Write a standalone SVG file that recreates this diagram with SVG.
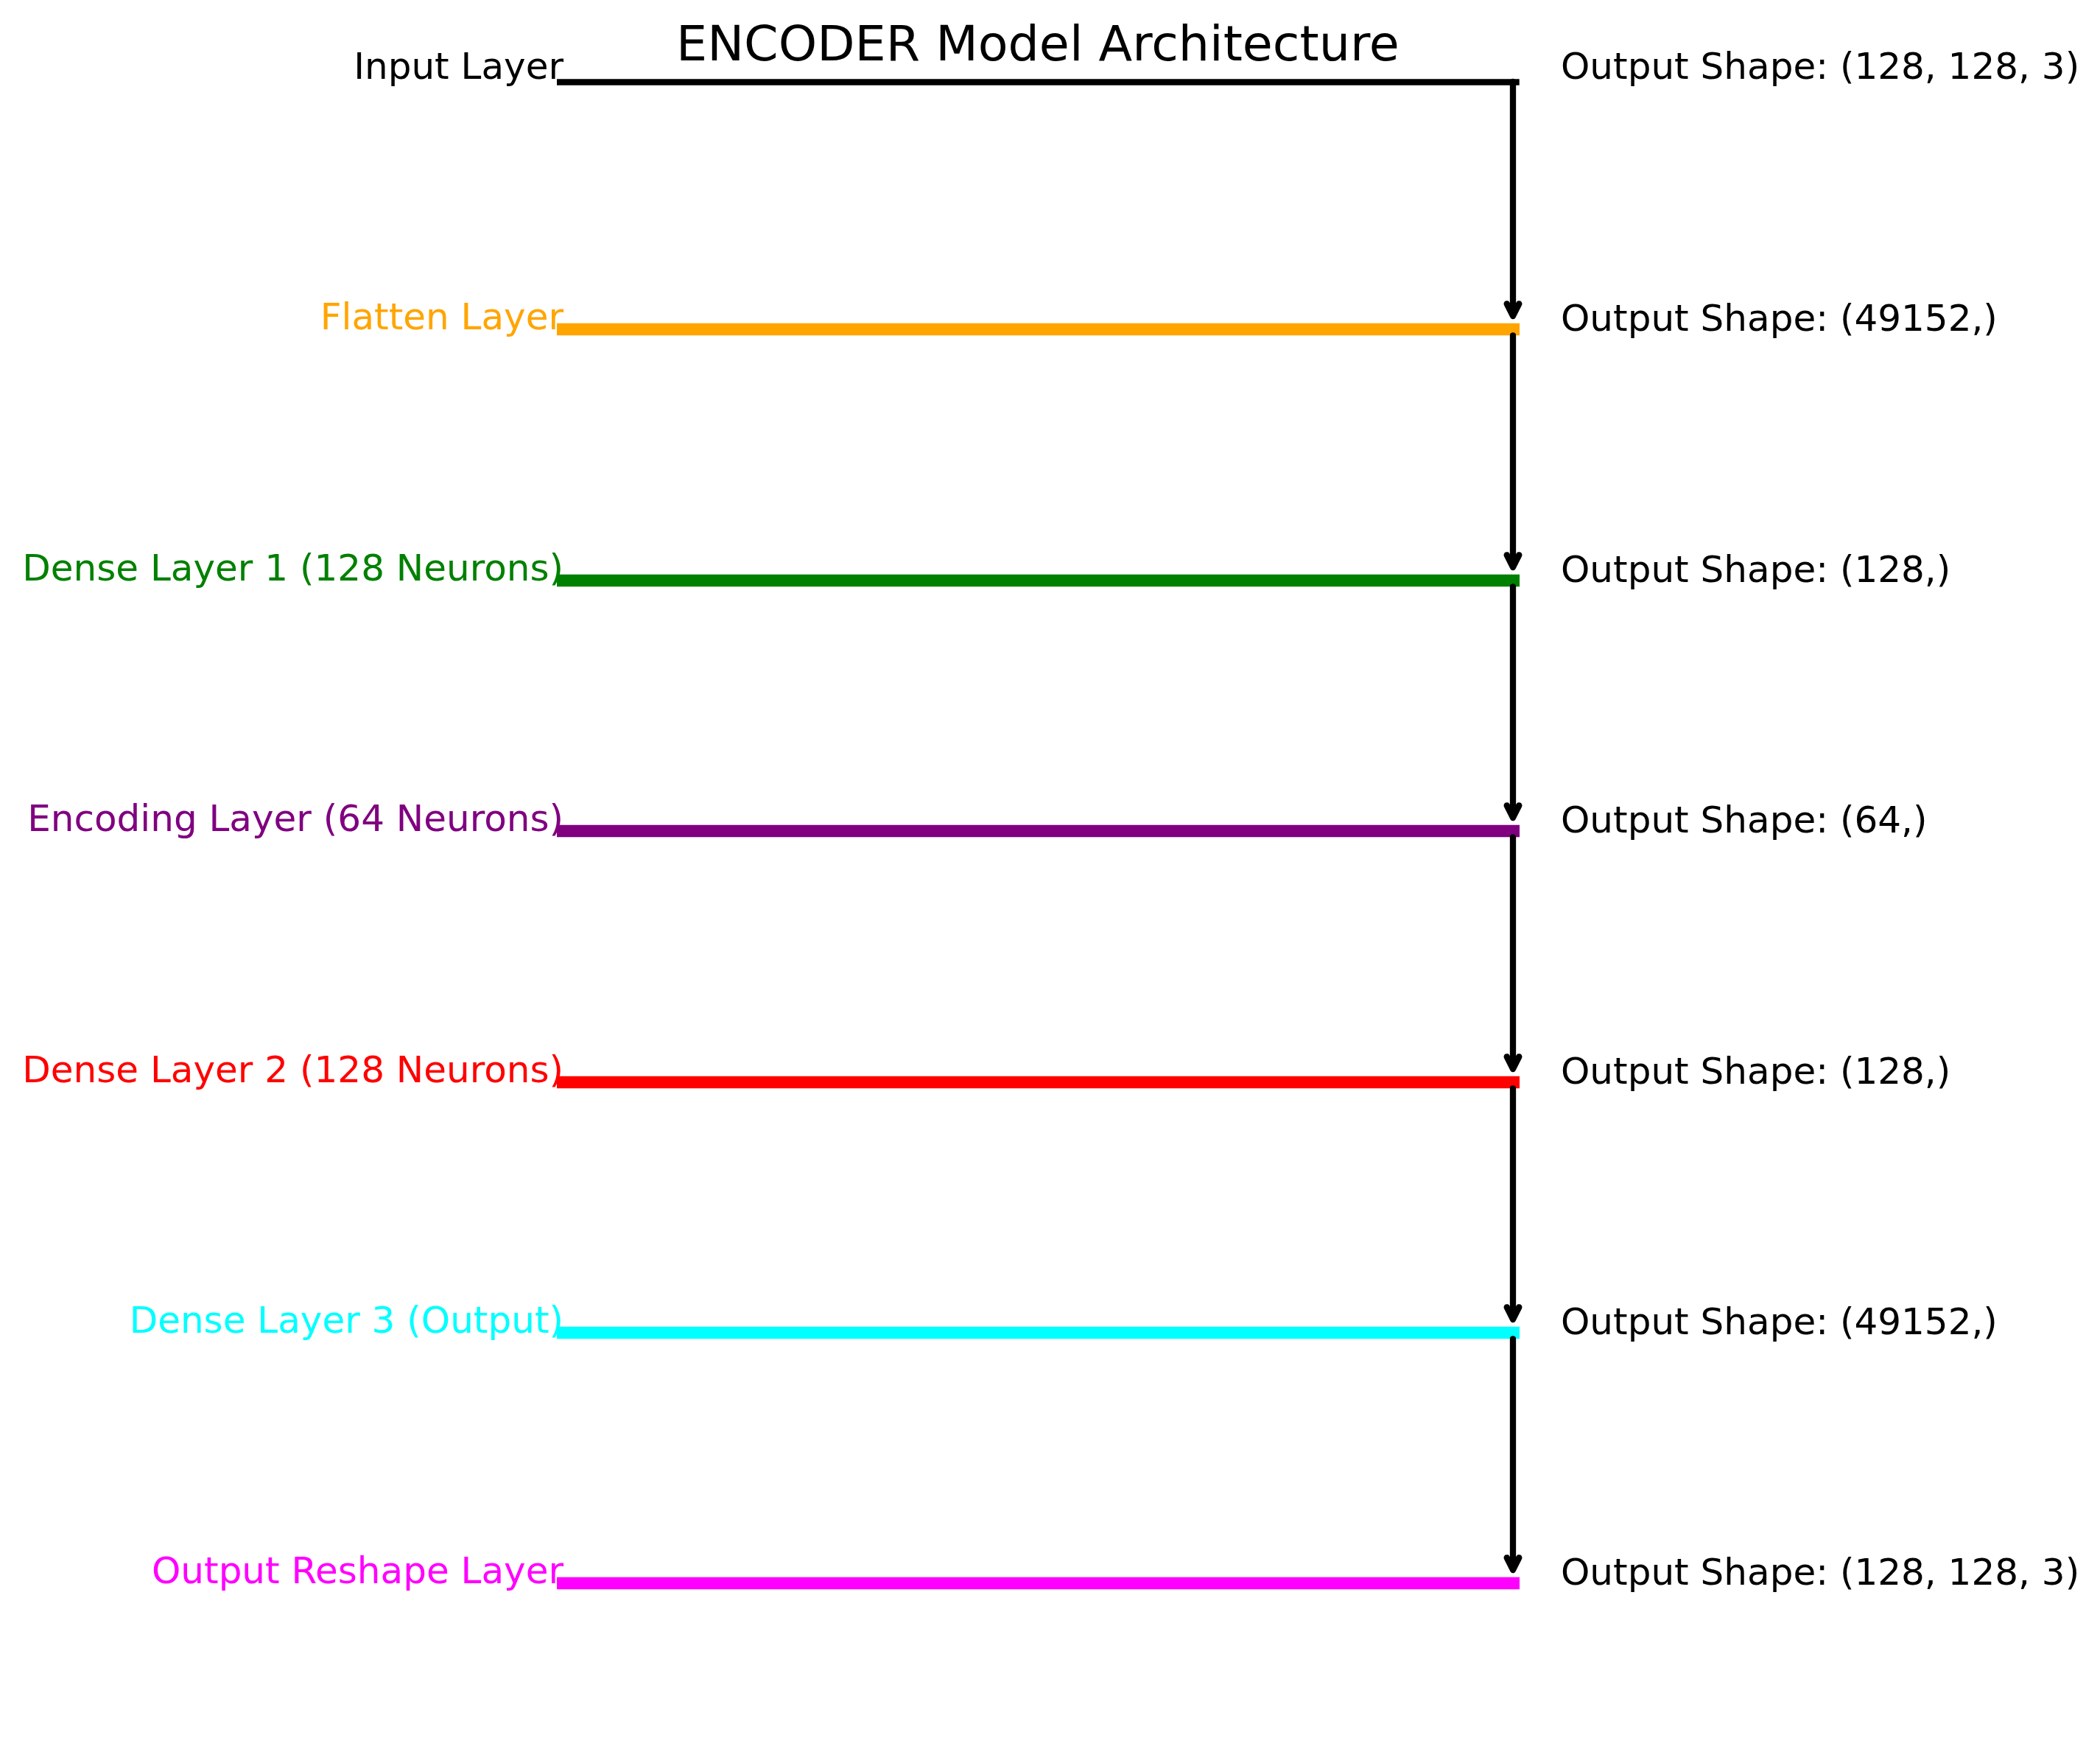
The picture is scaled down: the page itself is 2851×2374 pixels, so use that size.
<svg xmlns="http://www.w3.org/2000/svg" width="2851" height="2374" viewBox="0 0 2851 2374">
<style>
text{font-family:"DejaVu Sans","Liberation Sans",sans-serif;font-size:50px}
.lbl{text-anchor:end}
.title{font-size:66.7px;text-anchor:middle}
.bar{stroke-width:16.7;fill:none}
.arr{stroke:#000;stroke-width:8.3;fill:none;stroke-linejoin:round;stroke-linecap:round}
</style>
<rect width="2851" height="2374" fill="#fff"/>
<text class="title" x="1409" y="82">ENCODER Model Architecture</text>
<g id="input">
<line x1="756" y1="111.5" x2="2062.7" y2="111.5" stroke="#000" stroke-width="8.3"/>
<text class="lbl" x="765" y="107">Input Layer</text>
<text x="2119" y="107">Output Shape: (128, 128, 3)</text>
</g>
<g id="flatten">
<line class="bar" x1="756" y1="447" x2="2063" y2="447" stroke="#FFA500"/>
<text class="lbl" x="765" y="447" fill="#FFA500">Flatten Layer</text>
<text x="2119" y="449">Output Shape: (49152,)</text>
</g>
<g id="dense1">
<line class="bar" x1="756" y1="788" x2="2063" y2="788" stroke="#008000"/>
<text class="lbl" x="765" y="788" fill="#008000">Dense Layer 1 (128 Neurons)</text>
<text x="2119" y="790">Output Shape: (128,)</text>
</g>
<g id="encoding">
<line class="bar" x1="756" y1="1128" x2="2063" y2="1128" stroke="#800080"/>
<text class="lbl" x="765" y="1128" fill="#800080">Encoding Layer (64 Neurons)</text>
<text x="2119" y="1130">Output Shape: (64,)</text>
</g>
<g id="dense2">
<line class="bar" x1="756" y1="1469" x2="2063" y2="1469" stroke="#FF0000"/>
<text class="lbl" x="765" y="1469" fill="#FF0000">Dense Layer 2 (128 Neurons)</text>
<text x="2119" y="1471">Output Shape: (128,)</text>
</g>
<g id="dense3">
<line class="bar" x1="756" y1="1809" x2="2063" y2="1809" stroke="#00FFFF"/>
<text class="lbl" x="765" y="1809" fill="#00FFFF">Dense Layer 3 (Output)</text>
<text x="2119" y="1811">Output Shape: (49152,)</text>
</g>
<g id="reshape">
<line class="bar" x1="756" y1="2149" x2="2063" y2="2149" stroke="#FF00FF"/>
<text class="lbl" x="765" y="2149" fill="#FF00FF">Output Reshape Layer</text>
<text x="2119" y="2151">Output Shape: (128, 128, 3)</text>
</g>
<g id="connectors" class="arr">
<path d="M2054 111V429M2045.7 412.3L2054 429L2062.3 412.3"/>
<path d="M2054 455.3V770M2045.7 753.3L2054 770L2062.3 753.3"/>
<path d="M2054 796.3V1110M2045.7 1093.3L2054 1110L2062.3 1093.3"/>
<path d="M2054 1136.3V1451M2045.7 1434.3L2054 1451L2062.3 1434.3"/>
<path d="M2054 1477.3V1791M2045.7 1774.3L2054 1791L2062.3 1774.3"/>
<path d="M2054 1817.3V2131M2045.7 2114.3L2054 2131L2062.3 2114.3"/>
</g>
</svg>
